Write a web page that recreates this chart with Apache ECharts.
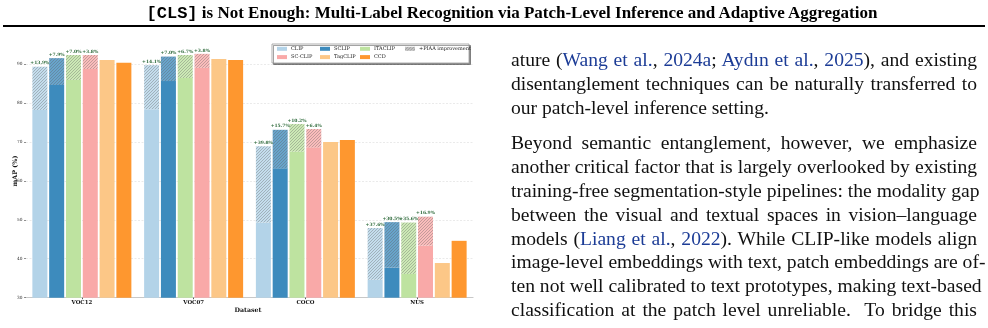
<!DOCTYPE html>
<html>
<head>
<meta charset="utf-8">
<script src="https://cdn.jsdelivr.net/npm/echarts@6/dist/echarts.min.js"></script>
<style>
  html, body { margin:0; padding:0; background:#fff; width:988px; height:328px; overflow:hidden; }
  #chart { position:absolute; left:0; top:0; width:988px; height:328px; }
  #header { position:absolute; left:18px; top:3px; width:988px; text-align:center; font-family:"Liberation Serif", serif; font-weight:bold; font-size:17px; color:#000; line-height:20px; white-space:nowrap; }
  #header .mono { font-family:"Liberation Mono", monospace; }
  #rule { position:absolute; left:3px; top:25px; width:982px; height:1.5px; background:#000; }
  #text { position:absolute; left:511px; top:0; width:466px; font-family:"Liberation Serif", serif; font-size:19.6px; color:#111; }
  #text .ln { position:absolute; left:0; width:466px; height:23.85px; line-height:23.85px; white-space:nowrap; text-align:justify; text-align-last:justify; }
  #text .ln.last { text-align:left; text-align-last:left; }
  #text .cite { color:#1c3c96; }
</style>
</head>
<body>
<div id="chart"></div>
<div id="header"><span class="mono">[CLS]</span> is Not Enough: Multi-Label Recognition via Patch-Level Inference and Adaptive Aggregation</div>
<div id="rule"></div>
<div id="text"></div>
<script>
// ---------------- data ----------------
const categories = ['VOC12', 'VOC07', 'COCO', 'NUS'];
const methods = ['CLIP', 'SCLIP', 'ITACLIP', 'SC-CLIP', 'TagCLIP', 'CCD'];

const clipBase   = [78.2, 78.4, 49.3, 34.6];
const clipPiaa   = [89.3, 89.7, 68.9, 47.9];
const sclipBase  = [84.6, 85.6, 63.2, 37.7];
const sclipPiaa  = [91.5, 91.9, 73.1, 49.4];
const itaBase    = [85.9, 86.4, 67.5, 36.1];
const itaPiaa    = [92.3, 92.3, 74.6, 49.3];
const scclipBase = [88.7, 89.0, 68.6, 43.4];
const scclipPiaa = [92.3, 92.6, 73.3, 50.8];
const tagclip    = [91.0, 91.3, 70.0, 38.9];
const ccd        = [90.3, 91.0, 70.5, 44.6];

const clipGain   = ['+13.9%', '+14.1%', '+39.8%', '+37.6%'];
const sclipGain  = ['+7.9%', '+7.0%', '+15.7%', '+30.5%'];
const itaGain    = ['+7.0%', '+6.7%', '+10.2%', '+35.6%'];
const scclipGain = ['+3.8%', '+3.8%', '+6.4%', '+16.9%'];

const yTicks = [30, 40, 50, 60, 70, 80, 90];

// ---------------- text ----------------
const para1 = [
  ['ature (', '<span class="cite">Wang et al.</span>, <span class="cite">2024a</span>; <span class="cite">Aydın et al.</span>, <span class="cite">2025</span>), and existing'],
  ['disentanglement techniques can be naturally transferred to'],
  ['our patch-level inference setting.']
];
const para2 = [
  ['Beyond semantic entanglement, however, we emphasize'],
  ['another critical factor that is largely overlooked by existing'],
  ['training-free segmentation-style pipelines: the modality gap'],
  ['between the visual and textual spaces in vision–language'],
  ['models (<span class="cite">Liang et al.</span>, <span class="cite">2022</span>). While CLIP-like models align'],
  ['image-level embeddings with text, patch embeddings are of-'],
  ['ten not well calibrated to text prototypes, making text-based'],
  ['classification at the patch level unreliable.&nbsp; To bridge this']
];
(function () {
  const box = document.getElementById('text');
  const lh = 23.85;
  function put(lines, top, lastLeft) {
    lines.forEach((l, i) => {
      const d = document.createElement('div');
      d.className = 'ln' + (lastLeft && i === lines.length - 1 ? ' last' : '');
      d.style.top = (top + i * lh) + 'px';
      d.innerHTML = l.join('');
      box.appendChild(d);
    });
  }
  put(para1, 48.1, true);
  put(para2, 131.1, false);
})();

// ---------------- chart ----------------
const colors = {
  'CLIP': '#b3d3e8',
  'SCLIP': '#3d8bbd',
  'ITACLIP': '#bee3a0',
  'SC-CLIP': '#f9a9a8',
  'TagCLIP': '#fcc787',
  'CCD': '#fe972f'
};

function hatch(base) {
  const s = 3;
  const c = document.createElement('canvas');
  c.width = s; c.height = s;
  const g = c.getContext('2d');
  g.fillStyle = '#ffffff'; g.fillRect(0, 0, s, s);
  g.globalAlpha = 0.78; g.fillStyle = base; g.fillRect(0, 0, s, s);
  g.globalAlpha = 1;
  g.strokeStyle = 'rgba(95,95,95,0.5)';
  g.lineWidth = 0.7;
  g.beginPath();
  g.moveTo(0, s); g.lineTo(s, 0);
  g.moveTo(-1, 1); g.lineTo(1, -1);
  g.moveTo(s - 1, s + 1); g.lineTo(s + 1, s - 1);
  g.stroke();
  return { image: c, repeat: 'repeat' };
}

const BW = 15;
const serif = 'DejaVu Serif';
const stacked = [
  ['CLIP', clipBase, clipPiaa, clipGain],
  ['SCLIP', sclipBase, sclipPiaa, sclipGain],
  ['ITACLIP', itaBase, itaPiaa, itaGain],
  ['SC-CLIP', scclipBase, scclipPiaa, scclipGain]
];
const series = [];
stacked.forEach(([name, base, piaa, gain]) => {
  series.push({
    name: name, type: 'bar', stack: name, barWidth: BW, barGap: '12%',
    itemStyle: { color: colors[name] }, data: base
  });
  series.push({
    name: '+PIAA improvement', type: 'bar', stack: name, barWidth: BW, barGap: '12%',
    itemStyle: { color: hatch(colors[name]) },
    data: piaa.map((v, i) => +(v - base[i]).toFixed(2)),
    label: {
      show: true, position: 'top', distance: 1,
      formatter: p => gain[p.dataIndex],
      fontFamily: serif, fontWeight: 'bold', fontSize: 4.5, color: '#2f6b3c'
    }
  });
});
series.push({ name: 'TagCLIP', type: 'bar', stack: 'TagCLIP', barWidth: BW, barGap: '12%', itemStyle: { color: colors['TagCLIP'] }, data: tagclip });
series.push({ name: 'CCD', type: 'bar', stack: 'CCD', barWidth: BW, barGap: '12%', itemStyle: { color: colors['CCD'] }, data: ccd });

const legendBase = {
  orient: 'vertical', top: 45.3, padding: 0, itemWidth: 10, itemHeight: 4, itemGap: 1.3,
  icon: 'rect', selectedMode: false, z: 10,
  textStyle: { fontFamily: serif, fontSize: 5, color: '#222', lineHeight: 7, padding: [0, 0, 0, -1] }
};

const chart = echarts.init(document.getElementById('chart'), null, { renderer: 'canvas' });
chart.setOption({
  animation: false,
  backgroundColor: 'transparent',
  grid: { left: 26, right: 515, top: 44.5, bottom: 30.3, containLabel: false, outerBoundsMode: 'none' },
  legend: [
    Object.assign({}, legendBase, { left: 277, data: ['CLIP', 'SC-CLIP'] }),
    Object.assign({}, legendBase, { left: 320, data: ['SCLIP', 'TagCLIP'] }),
    Object.assign({}, legendBase, { left: 360, data: ['ITACLIP', 'CCD'] }),
    Object.assign({}, legendBase, { left: 405, data: [{ name: '+PIAA improvement', itemStyle: { color: hatch('#b4b4b4') } }] })
  ],
  xAxis: {
    type: 'category', data: categories,
    axisLine: { lineStyle: { color: '#c8c8c8', width: 1.2 } },
    axisTick: { show: true, alignWithLabel: true, length: 1.5, lineStyle: { color: '#333', width: 0.8 } },
    axisLabel: { fontFamily: serif, fontWeight: 'bold', fontSize: 5.4, color: '#111', margin: 2.5 }
  },
  yAxis: {
    type: 'value', min: 30, max: 95, interval: 10,
    axisLine: { show: false },
    axisTick: { show: true, length: 2, lineStyle: { color: '#444', width: 0.6 } },
    axisLabel: {
      fontFamily: serif, fontSize: 4.3, color: '#333', margin: 3.5, showMaxLabel: false,
      formatter: v => (yTicks.indexOf(v) >= 0 ? String(v) : '')
    },
    splitLine: {
      show: true,
      lineStyle: { color: ['#e4e4e4', '#e4e4e4', '#e4e4e4', '#e4e4e4', '#e4e4e4', '#e4e4e4', '#e4e4e4', 'rgba(0,0,0,0)'], type: [2, 1.5], width: 0.8 }
    }
  },
  graphic: [
    {
      type: 'rect', z: 5, shape: { x: 272, y: 44, width: 197, height: 19 },
      style: { fill: '#fff', stroke: '#9a9a9a', lineWidth: 0.8, shadowColor: 'rgba(0,0,0,0.45)', shadowOffsetX: 1.5, shadowOffsetY: 1.5, shadowBlur: 0 }
    },
    {
      type: 'text', z: 5, x: 15, y: 171, rotation: Math.PI / 2,
      style: { text: 'mAP (%)', fontFamily: serif, fontWeight: 'bold', fontSize: 6.4, fill: '#111', align: 'center', verticalAlign: 'middle' }
    },
    {
      type: 'text', z: 5, x: 248, y: 310,
      style: { text: 'Dataset', fontFamily: serif, fontWeight: 'bold', fontSize: 6.3, fill: '#111', align: 'center', verticalAlign: 'middle' }
    }
  ],
  series: series
});
</script>
</body>
</html>
